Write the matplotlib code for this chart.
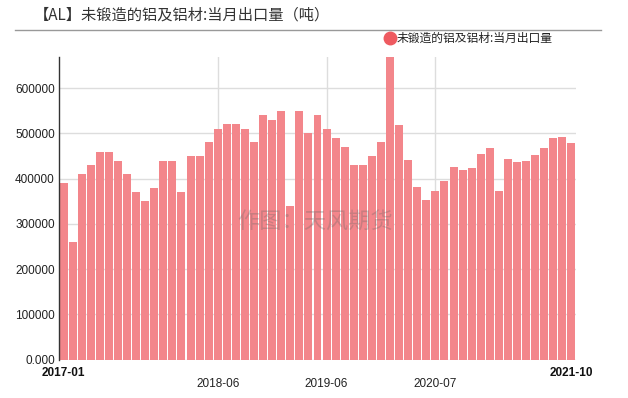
import numpy as np
import pandas as pd
import matplotlib
matplotlib.use("Agg")
import matplotlib.pyplot as plt
from matplotlib.lines import Line2D

plt.rcParams["font.family"] = ["Noto Sans CJK SC", "DejaVu Sans"]

# monthly labels, 2020-01 is merged into 2020-02 in the source data
months = [p.strftime("%Y-%m") for p in pd.period_range("2017-01", "2021-10", freq="M")]
months.remove("2020-01")

# export volume, tonnes
export_t = [390000, 260000, 410000, 430000, 460000, 460000, 440000, 410000, 370000, 350000,
            380000, 440000, 440000, 370000, 450000, 450000, 480000, 510000, 520000, 520000,
            510000, 480000, 540000, 530000, 550000, 340000, 550000, 500000, 540000, 510000,
            490000, 470000, 430000, 430000, 450000, 480000, 669000, 518000, 441000, 381000,
            352000, 372000, 394000, 425000, 418000, 423000, 455000, 467000, 372000, 443000,
            436000, 438000, 453000, 468000, 489000, 492000, 478000]

yticks = [0, 100000, 200000, 300000, 400000, 500000, 600000]
ytick_labels = ["0.000", "100000", "200000", "300000", "400000", "500000", "600000"]
edge_labels = ["2017-01", "2021-10"]
mid_labels = ["2018-06", "2019-06", "2020-07"]

title = "【AL】未锻造的铝及铝材:当月出口量（吨）"
series_name = "未锻造的铝及铝材:当月出口量"
watermark = "作图：天风期货"

W, H = 628, 398
fig = plt.figure(figsize=(W / 100, H / 100), dpi=100)
ax = fig.add_axes([59 / W, 1 - 359.5 / H, (576 - 59) / W, (359.5 - 57) / H])

x = np.arange(len(months))
ax.bar(x, export_t, width=0.88, color="#F3868B", zorder=2)

ax.set_xlim(-0.5, len(months) - 0.5)
ax.set_ylim(0, max(export_t))

ax.set_yticks(yticks)
ax.set_yticklabels(ytick_labels, family="Liberation Sans", fontsize=8.5, color="#222222")
ax.tick_params(axis="y", length=0, pad=3)

# vertical grid at the middle labels
mid_idx = [months.index(m) for m in mid_labels]
ax.set_xticks(mid_idx)
ax.set_xticklabels([])
ax.tick_params(axis="x", length=0)
ax.grid(True, color="#DDDDDD", linewidth=1, zorder=0)
ax.set_axisbelow(True)

for s in ["top", "right", "bottom"]:
    ax.spines[s].set_visible(False)
ax.spines["left"].set_color("#333333")
ax.spines["left"].set_linewidth(1)

trans = matplotlib.transforms.blended_transform_factory(ax.transData, ax.transAxes)
for lab in edge_labels:
    ax.text(months.index(lab), -13.5 / 302.5, lab, transform=trans, ha="center", va="center",
            family="Liberation Sans", fontsize=8.5, fontweight="bold", color="#111111")
for lab in mid_labels:
    ax.text(months.index(lab), -24.5 / 302.5, lab, transform=trans, ha="center", va="center",
            family="Liberation Sans", fontsize=8.5, color="#222222")

# watermark
fig.text(315 / W, 1 - 222 / H, watermark, ha="center", va="center", fontsize=16,
         color="#666666", alpha=0.3)

# title and rule
fig.text(34 / W, 1 - 15 / H, title, ha="left", va="center", fontsize=11,
         fontweight="medium", color="#333333")
fig.add_artist(Line2D([15 / W, 601 / W], [1 - 29.5 / H] * 2, color="#999999", linewidth=1))

handle = Line2D([], [], marker="o", linestyle="", color="#EE5A60", markersize=9)
fig.legend(handles=[handle], labels=[series_name], loc="center left",
           bbox_to_anchor=(379 / W, 1 - 38.5 / H), frameon=False, borderpad=0,
           handlelength=0.8, handletextpad=0.15, fontsize=8.5, labelcolor="#222222")

fig.savefig("out.png", dpi=100)
